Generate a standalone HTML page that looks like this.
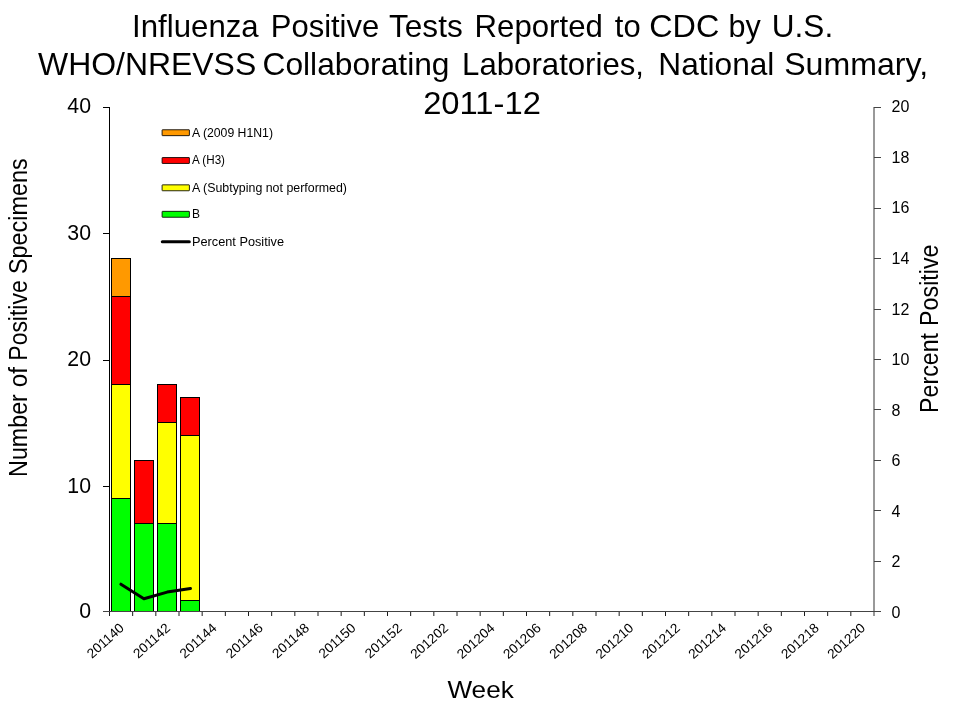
<!DOCTYPE html>
<html lang="en"><head><meta charset="utf-8"><title>Influenza Positive Tests Reported to CDC</title>
<style>html,body{margin:0;padding:0;background:#fff;}body{width:960px;height:720px;overflow:hidden;}svg{display:block;}text{font-family:"Liberation Sans",sans-serif;fill:#000;}</style></head><body>
<svg width="960" height="720" viewBox="0 0 960 720">
<rect width="960" height="720" fill="#fff"/>
<g font-size="32">
<text y="37"><tspan x="132.1" textLength="126.6" lengthAdjust="spacingAndGlyphs">Influenza</tspan> <tspan x="270.8" textLength="108.4" lengthAdjust="spacingAndGlyphs">Positive</tspan> <tspan x="389.0" textLength="73.7" lengthAdjust="spacingAndGlyphs">Tests</tspan> <tspan x="474.6" textLength="128.2" lengthAdjust="spacingAndGlyphs">Reported</tspan> <tspan x="614.8" textLength="25.8" lengthAdjust="spacingAndGlyphs">to</tspan> <tspan x="649.2" textLength="70.1" lengthAdjust="spacingAndGlyphs">CDC</tspan> <tspan x="728.6" textLength="32.2" lengthAdjust="spacingAndGlyphs">by</tspan> <tspan x="771.8" textLength="61.4" lengthAdjust="spacingAndGlyphs">U.S.</tspan></text>
<text y="75.3"><tspan x="38.0" textLength="218.2" lengthAdjust="spacingAndGlyphs">WHO/NREVSS</tspan> <tspan x="262.5" textLength="187.0" lengthAdjust="spacingAndGlyphs">Collaborating</tspan> <tspan x="462.1" textLength="181.9" lengthAdjust="spacingAndGlyphs">Laboratories,</tspan> <tspan x="658.3" textLength="116.1" lengthAdjust="spacingAndGlyphs">National</tspan> <tspan x="784.2" textLength="143.9" lengthAdjust="spacingAndGlyphs">Summary,</tspan></text>
<text x="482" y="113.6" text-anchor="middle" textLength="117.7" lengthAdjust="spacingAndGlyphs">2011-12</text>
</g>
<g shape-rendering="crispEdges" stroke="#000" stroke-width="1">
<rect x="111.5" y="498.5" width="19" height="113.0" fill="#00FF00"/>
<rect x="111.5" y="384.5" width="19" height="114.0" fill="#FFFF00"/>
<rect x="111.5" y="296.5" width="19" height="88.0" fill="#FF0000"/>
<rect x="111.5" y="258.5" width="19" height="38.0" fill="#FF9900"/>
<rect x="134.5" y="523.5" width="19" height="88.0" fill="#00FF00"/>
<rect x="134.5" y="460.5" width="19" height="63.0" fill="#FF0000"/>
<rect x="157.5" y="523.5" width="19" height="88.0" fill="#00FF00"/>
<rect x="157.5" y="422.5" width="19" height="101.0" fill="#FFFF00"/>
<rect x="157.5" y="384.5" width="19" height="38.0" fill="#FF0000"/>
<rect x="180.5" y="600.5" width="19" height="11.0" fill="#00FF00"/>
<rect x="180.5" y="435.5" width="19" height="165.0" fill="#FFFF00"/>
<rect x="180.5" y="397.5" width="19" height="38.0" fill="#FF0000"/>
</g>
<g shape-rendering="crispEdges" stroke="#000" stroke-width="1" fill="none">
<path d="M109.5 107V612"/>
<path d="M103 611.5H110"/>
<path d="M103 486.5H110"/>
<path d="M103 360.5H110"/>
<path d="M103 233.5H110"/>
<path d="M103 107.5H110"/>
<path d="M874 107V616" stroke="#999" stroke-width="2"/>
<path d="M103 611.5H881" stroke="#444"/>
<path d="M874 611.5H881" stroke="#444"/>
<path d="M874 561.5H881" stroke="#444"/>
<path d="M874 510.5H881" stroke="#444"/>
<path d="M874 460.5H881" stroke="#444"/>
<path d="M874 409.5H881" stroke="#444"/>
<path d="M874 359.5H881" stroke="#444"/>
<path d="M874 309.5H881" stroke="#444"/>
<path d="M874 258.5H881" stroke="#444"/>
<path d="M874 208.5H881" stroke="#444"/>
<path d="M874 157.5H881" stroke="#444"/>
<path d="M874 107.5H881" stroke="#444"/>
</g>
<g stroke="#1a1a1a" stroke-width="1" fill="none">
<path d="M132.67 612V616"/>
<path d="M155.83 612V616"/>
<path d="M179.00 612V616"/>
<path d="M202.17 612V616"/>
<path d="M225.33 612V616"/>
<path d="M248.50 612V616"/>
<path d="M271.67 612V616"/>
<path d="M294.83 612V616"/>
<path d="M318.00 612V616"/>
<path d="M341.17 612V616"/>
<path d="M364.33 612V616"/>
<path d="M387.50 612V616"/>
<path d="M410.67 612V616"/>
<path d="M433.83 612V616"/>
<path d="M457.00 612V616"/>
<path d="M480.17 612V616"/>
<path d="M503.33 612V616"/>
<path d="M526.50 612V616"/>
<path d="M549.67 612V616"/>
<path d="M572.83 612V616"/>
<path d="M596.00 612V616"/>
<path d="M619.17 612V616"/>
<path d="M642.33 612V616"/>
<path d="M665.50 612V616"/>
<path d="M688.67 612V616"/>
<path d="M711.83 612V616"/>
<path d="M735.00 612V616"/>
<path d="M758.17 612V616"/>
<path d="M781.33 612V616"/>
<path d="M804.50 612V616"/>
<path d="M827.67 612V616"/>
<path d="M850.83 612V616"/>
<path d="M109.5 612V616"/>
</g>
<polyline points="120.9,584.2 143.9,598.7 167.2,592.1 190.5,588.4" fill="none" stroke="#000" stroke-width="3" stroke-linecap="round" stroke-linejoin="round"/>
<g font-size="21.3" text-anchor="end">
<text x="91" y="617.7">0</text>
<text x="91" y="492.6">10</text>
<text x="91" y="366">20</text>
<text x="91" y="240">30</text>
<text x="91" y="113">40</text>
</g>
<g font-size="16">
<text x="891.5" y="617.9">0</text>
<text x="891.5" y="567.3">2</text>
<text x="891.5" y="516.8">4</text>
<text x="891.5" y="466.2">6</text>
<text x="891.5" y="415.7">8</text>
<text x="891.5" y="365.1">10</text>
<text x="891.5" y="314.5">12</text>
<text x="891.5" y="264.0">14</text>
<text x="891.5" y="213.4">16</text>
<text x="891.5" y="162.9">18</text>
<text x="891.5" y="112.3">20</text>
</g>
<g font-size="13.6" text-anchor="end">
<text transform="translate(124.9,629.2) rotate(-42)">201140</text>
<text transform="translate(171.2,629.2) rotate(-42)">201142</text>
<text transform="translate(217.6,629.2) rotate(-42)">201144</text>
<text transform="translate(263.9,629.2) rotate(-42)">201146</text>
<text transform="translate(310.2,629.2) rotate(-42)">201148</text>
<text transform="translate(356.6,629.2) rotate(-42)">201150</text>
<text transform="translate(402.9,629.2) rotate(-42)">201152</text>
<text transform="translate(449.2,629.2) rotate(-42)">201202</text>
<text transform="translate(495.6,629.2) rotate(-42)">201204</text>
<text transform="translate(541.9,629.2) rotate(-42)">201206</text>
<text transform="translate(588.2,629.2) rotate(-42)">201208</text>
<text transform="translate(634.5,629.2) rotate(-42)">201210</text>
<text transform="translate(680.9,629.2) rotate(-42)">201212</text>
<text transform="translate(727.2,629.2) rotate(-42)">201214</text>
<text transform="translate(773.5,629.2) rotate(-42)">201216</text>
<text transform="translate(819.9,629.2) rotate(-42)">201218</text>
<text transform="translate(866.2,629.2) rotate(-42)">201220</text>
</g>
<text font-size="25" transform="translate(27.0,0) rotate(-90)"><tspan x="-476.9" textLength="82.7" lengthAdjust="spacingAndGlyphs">Number</tspan> <tspan x="-387.2" textLength="20.1" lengthAdjust="spacingAndGlyphs">of</tspan> <tspan x="-360.7" textLength="80.4" lengthAdjust="spacingAndGlyphs">Positive</tspan> <tspan x="-274.0" textLength="115.6" lengthAdjust="spacingAndGlyphs">Specimens</tspan></text>
<text font-size="25" transform="translate(938.0,0) rotate(-90)"><tspan x="-412.9" textLength="79.9" lengthAdjust="spacingAndGlyphs">Percent</tspan> <tspan x="-325.9" textLength="81.4" lengthAdjust="spacingAndGlyphs">Positive</tspan></text>
<text font-size="24" text-anchor="middle" x="480.6" y="697.8" textLength="66.3" lengthAdjust="spacingAndGlyphs">Week</text>
<g font-size="12">
<rect x="162.1" y="129.75" width="27.3" height="5.9" rx="0.4" fill="#FF9900" stroke="#000" stroke-opacity="0.85" stroke-width="1"/>
<text x="192" y="136.7" textLength="81" lengthAdjust="spacingAndGlyphs">A (2009 H1N1)</text>
<rect x="162.1" y="157.55" width="27.3" height="5.9" rx="0.4" fill="#FF0000" stroke="#000" stroke-opacity="0.85" stroke-width="1"/>
<text x="192" y="163.5" textLength="33" lengthAdjust="spacingAndGlyphs">A (H3)</text>
<rect x="162.1" y="184.85" width="27.3" height="5.9" rx="0.4" fill="#FFFF00" stroke="#000" stroke-opacity="0.85" stroke-width="1"/>
<text x="192" y="191.9" textLength="155" lengthAdjust="spacingAndGlyphs">A (Subtyping not performed)</text>
<rect x="162.1" y="211.35" width="27.3" height="5.9" rx="0.4" fill="#00FF00" stroke="#000" stroke-opacity="0.85" stroke-width="1"/>
<text x="192" y="218.4">B</text>
<path d="M162.3 241.7H189.3" stroke="#000" stroke-width="3" stroke-linecap="round"/>
<text x="192" y="245.8" textLength="92" lengthAdjust="spacingAndGlyphs">Percent Positive</text>
</g>
</svg></body></html>
